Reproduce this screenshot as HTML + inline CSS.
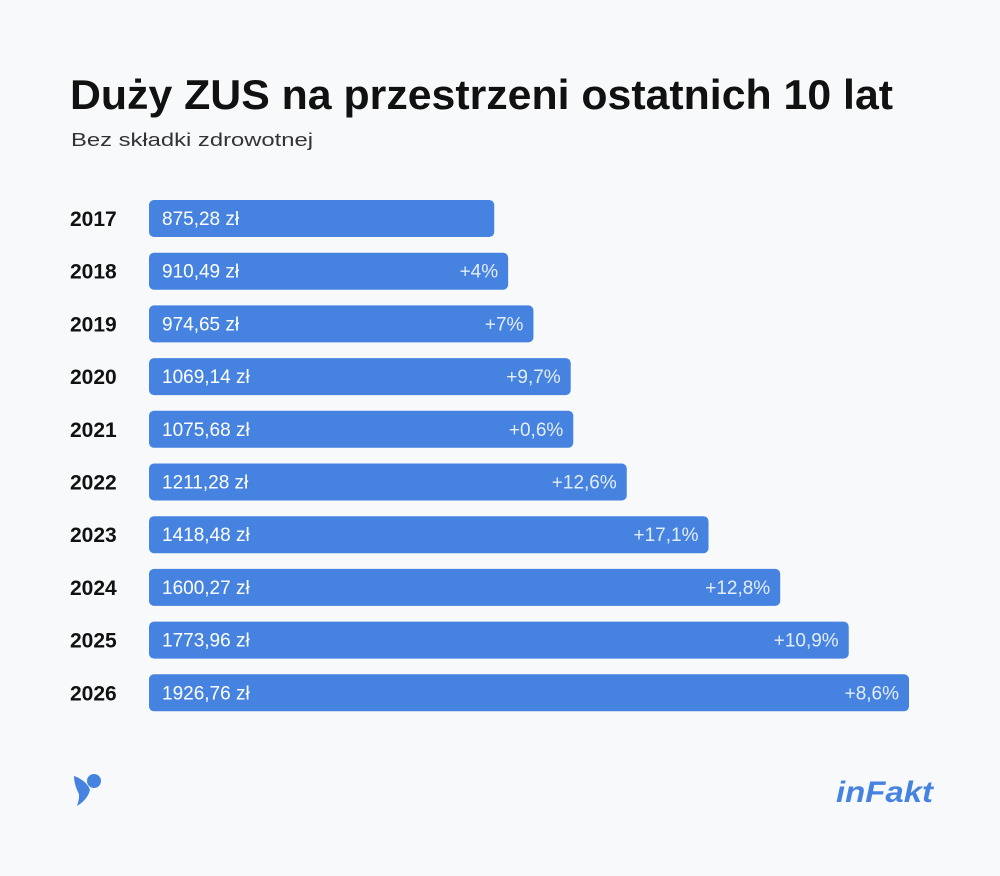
<!DOCTYPE html>
<html><head><meta charset="utf-8"><style>
html,body{margin:0;padding:0;background:#f8f9fb;}
svg{display:block;font-family:"Liberation Sans",sans-serif;}
</style></head><body>
<svg id="chart" width="1000" height="876" viewBox="0 0 1000 876">
<rect width="1000" height="876" fill="#f8f9fb"/>
<text x="70" y="109" font-size="42" font-weight="bold" fill="#111" textLength="823" lengthAdjust="spacingAndGlyphs">Duży ZUS na przestrzeni ostatnich 10 lat</text>
<text x="71" y="146" font-size="18" fill="#333" textLength="242" lengthAdjust="spacingAndGlyphs">Bez składki zdrowotnej</text>
<g id="bars"></g>
<g>
<circle cx="94" cy="781" r="7" fill="#4683e0"/>
<path d="M74 776 C80 778 88 783 90 790 C88 798 82 803 77 806 C79 800 80 795 78 792 C76 788 74 782 74 776 Z" fill="#4683e0"/>
</g>
<text x="836" y="802" font-size="30" font-weight="bold" font-style="italic" fill="#4683e0" textLength="97" lengthAdjust="spacingAndGlyphs">inFakt</text>
</svg>
<script>
const years = ["2017","2018","2019","2020","2021","2022","2023","2024","2025","2026"];
const values = [875.28, 910.49, 974.65, 1069.14, 1075.68, 1211.28, 1418.48, 1600.27, 1773.96, 1926.76];
const valueLabels = ["875,28 zł","910,49 zł","974,65 zł","1069,14 zł","1075,68 zł","1211,28 zł","1418,48 zł","1600,27 zł","1773,96 zł","1926,76 zł"];
const changeLabels = ["","+4%","+7%","+9,7%","+0,6%","+12,6%","+17,1%","+12,8%","+10,9%","+8,6%"];

const x0 = 149, pxPer = 760 / 1926.76;
const xScale = v => x0 + v * pxPer;
const yScale = i => 200 + i * 52.7;
const NS = "http://www.w3.org/2000/svg";
const g = document.getElementById("bars");
function mk(tag, attrs, txt){
  const e = document.createElementNS(NS, tag);
  for (const k in attrs) e.setAttribute(k, attrs[k]);
  if (txt !== undefined) e.textContent = txt;
  g.appendChild(e);
  return e;
}
years.forEach((yr, i) => {
  const y = yScale(i);
  const xe = xScale(values[i]);
  const lab = mk("text", {x:70, y:y+26, "font-size":21, "font-weight":"bold", fill:"#111"}, yr);
  
  
  const r = mk("rect", {x:x0, y:y, width:xe-x0, height:37, rx:5, fill:"#4683e0"});
  
  
  const vt = mk("text", {x:162, y:y+25, "font-size":19, fill:"#fff"}, valueLabels[i]);
  
  
  if (changeLabels[i]) {
    const ct = mk("text", {x:xe-10, y:y+25, "font-size":19, fill:"#fff", "fill-opacity":0.85, "text-anchor":"end"}, changeLabels[i]);
    
    
  }
});
</script>
</body></html>
